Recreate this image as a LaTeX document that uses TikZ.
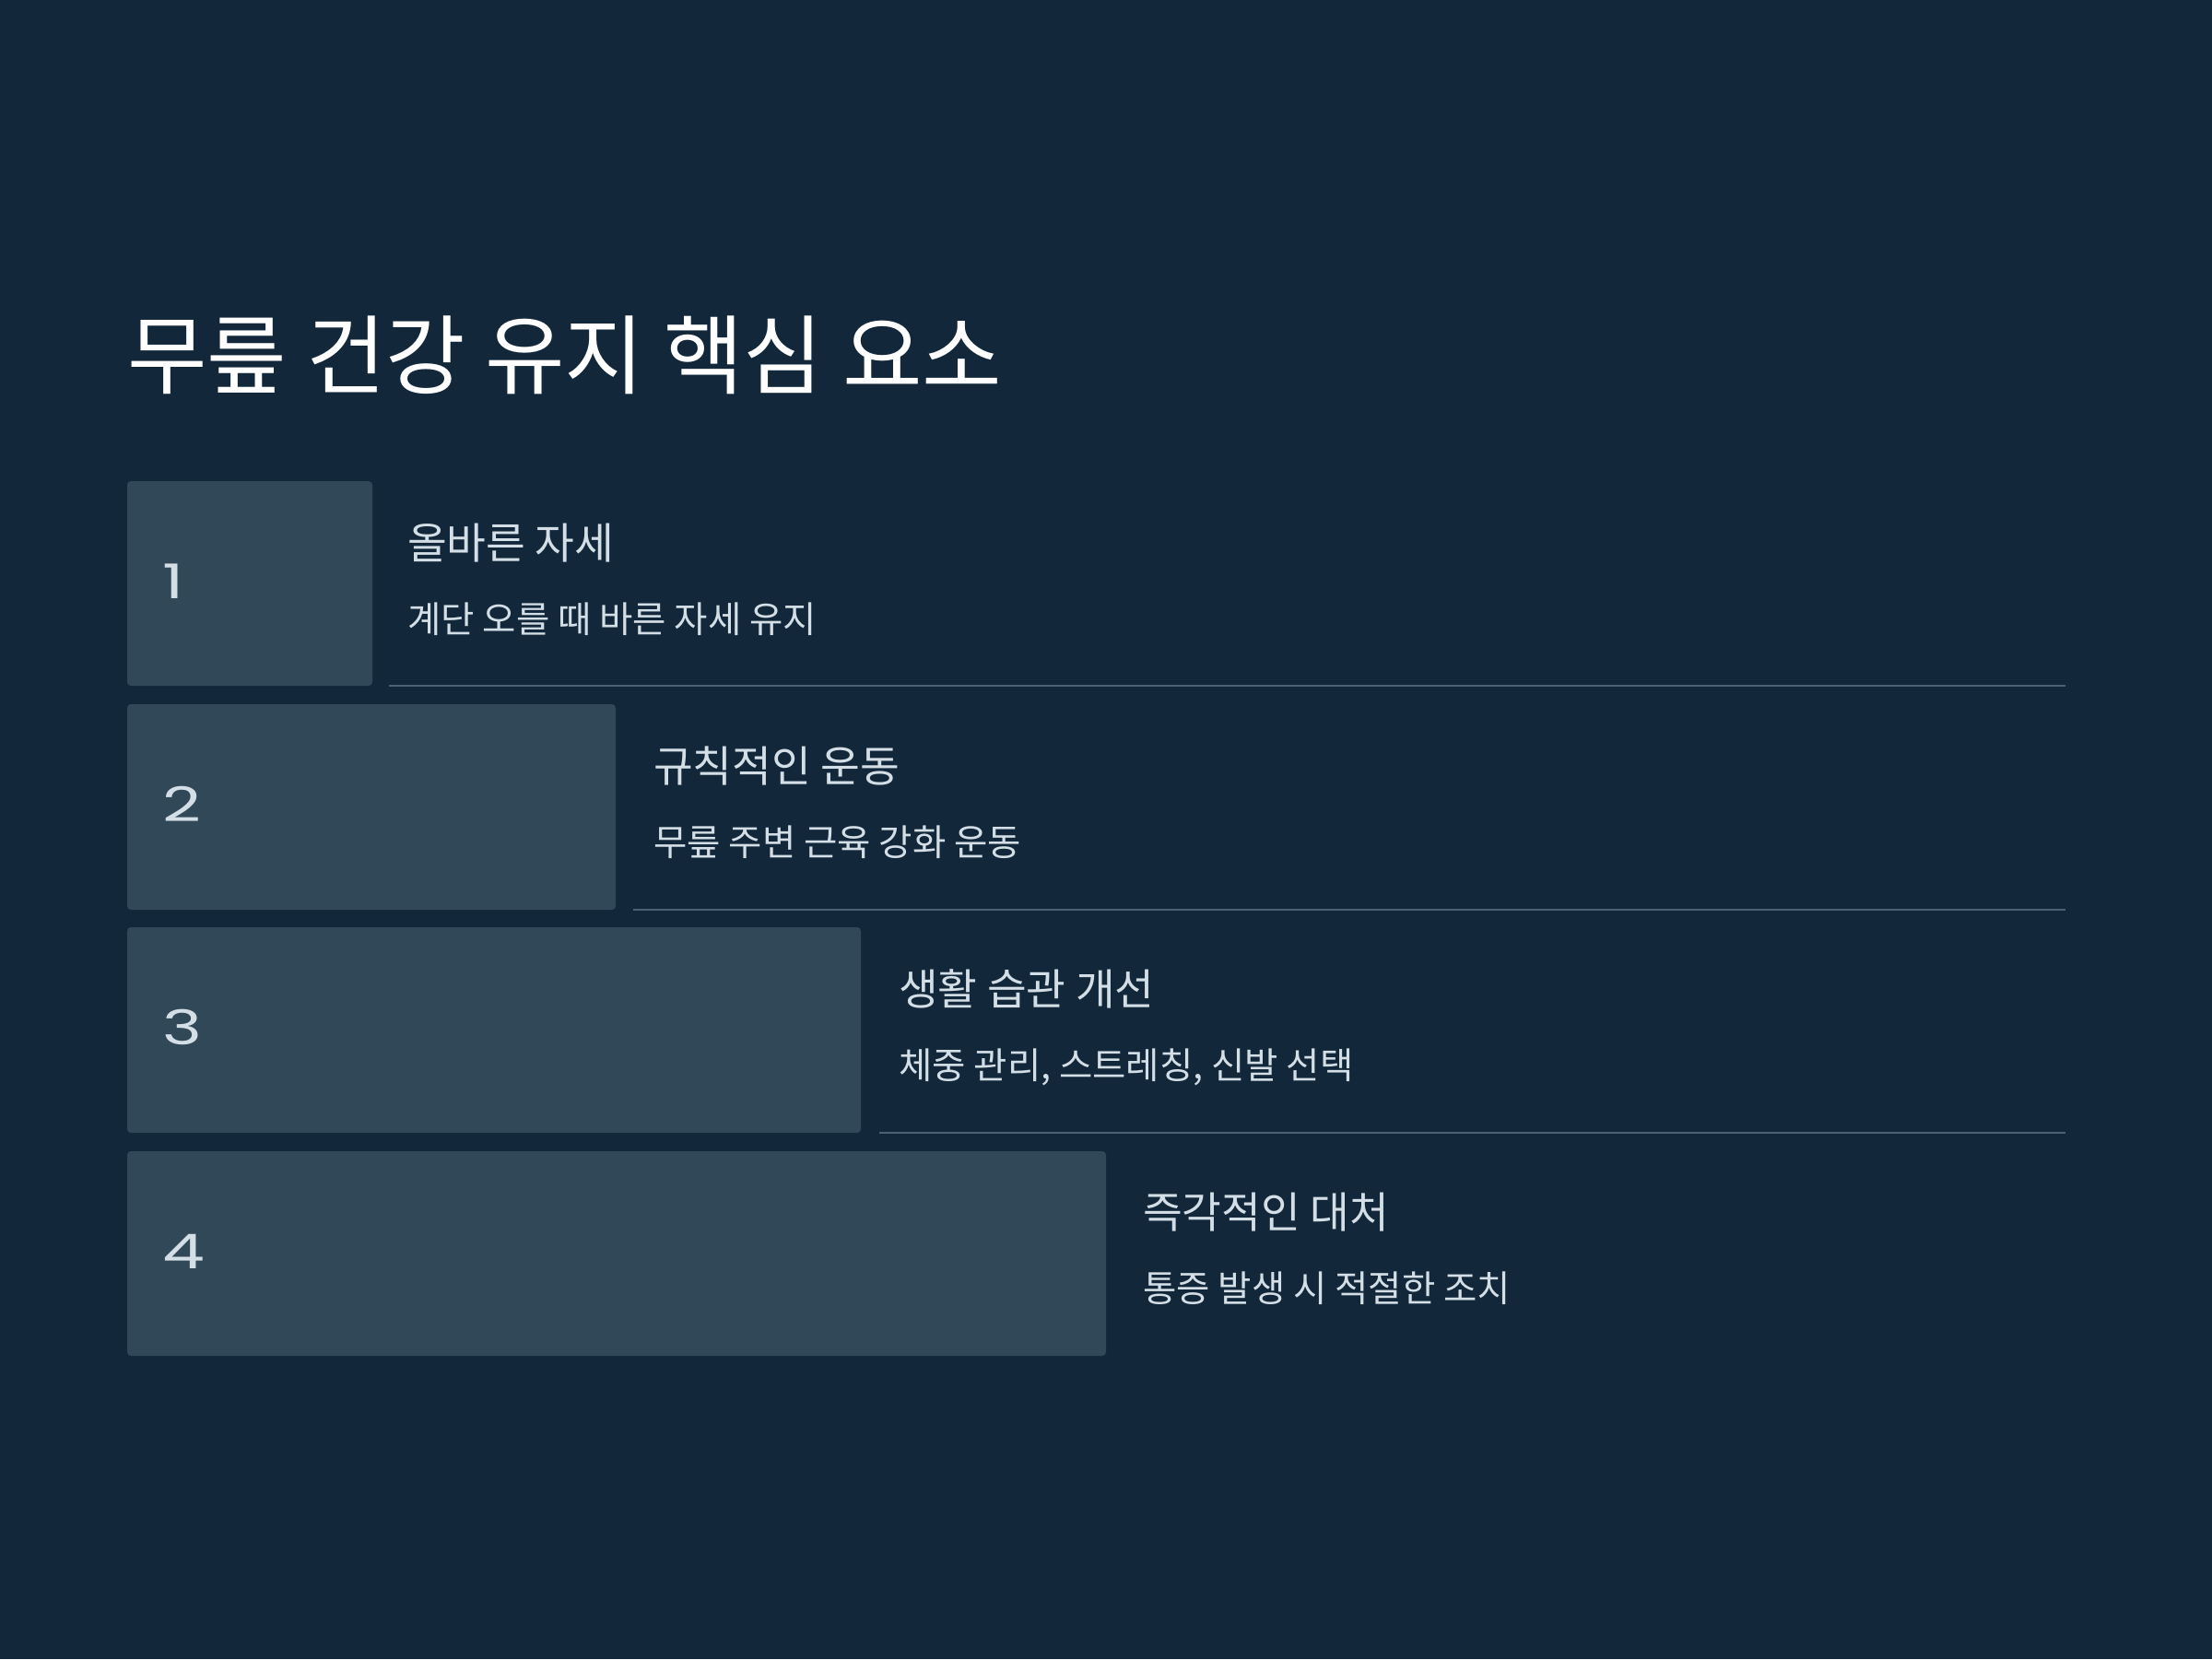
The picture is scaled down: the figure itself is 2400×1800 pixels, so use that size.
\documentclass[tikz,border=0pt]{standalone}
\usepackage{fontspec}
\setmainfont{Noto Sans CJK KR}
\newfontfamily\numfont{Poppins}
\definecolor{bgc}{HTML}{12283A}
\definecolor{boxc}{HTML}{304858}
\definecolor{headc}{HTML}{D3DEE6}
\definecolor{linec}{HTML}{4C6272}
\tikzset{
  stepbox/.style={fill=boxc, rounded corners=4pt, draw=none},
  numtext/.style={anchor=west, inner sep=0pt, text=headc, font=\numfont\fontsize{52}{52}\selectfont, text height=0.7em, text depth=0pt, xscale=1.4},
  headtext/.style={anchor=west, inner sep=0pt, text=headc, font=\fontsize{46.5}{46.5}\selectfont, text height=0.82em, text depth=0.08em},
  subtext/.style={anchor=west, inner sep=0pt, text=headc, font=\fontsize{39.5}{39.5}\selectfont, text height=0.82em, text depth=0.08em},
  sepline/.style={draw=linec, line width=2pt}
}
\begin{document}
\begin{tikzpicture}[x=1pt,y=-1pt]
\fill[bgc] (0,0) rectangle (2400,1800);
\useasboundingbox (0,0) rectangle (2400,1800);
\node[anchor=west, inner sep=0pt, text=white, font=\fontsize{94}{94}\selectfont, text height=0.82em, text depth=0.08em] (title) at (138,417) {무릎 건강 유지 핵심 요소};
% rows
\path[stepbox] (138,522) rectangle (404,744);
\path[stepbox] (138,764) rectangle (668,987);
\path[stepbox] (138,1006) rectangle (934,1229);
\path[stepbox] (138,1249) rectangle (1200,1471);
\node[numtext] (n1) at (176,646) {1};
\node[numtext] (n2) at (176,888) {2};
\node[numtext] (n3) at (176,1130) {3};
\node[numtext] (n4) at (176,1373) {4};
\node[headtext] (h1) at (442,603) {올바른 자세};
\node[subtext] (s1) at (442,683) {계단 오를 때 바른 자세 유지};
\node[headtext] (h2) at (709,845) {규칙적인 운동};
\node[subtext] (s2) at (709,925) {무릎 주변 근육 강화 운동};
\node[headtext] (h3) at (975,1087) {생활 습관 개선};
\node[subtext] (s3) at (975,1167) {체중 관리, 스트레칭, 신발 선택};
\node[headtext] (h4) at (1240,1329) {즉각적인 대처};
\node[subtext] (s4) at (1240,1409) {통증 발생 시 적절한 조치};
\coordinate (l1a) at (422,744); \coordinate (l1b) at (2241,744);
\coordinate (l2a) at (687,987); \coordinate (l2b) at (2241,987);
\coordinate (l3a) at (954,1229); \coordinate (l3b) at (2241,1229);
\draw[sepline] (l1a) -- (l1b);
\draw[sepline] (l2a) -- (l2b);
\draw[sepline] (l3a) -- (l3b);
\end{tikzpicture}
\end{document}
